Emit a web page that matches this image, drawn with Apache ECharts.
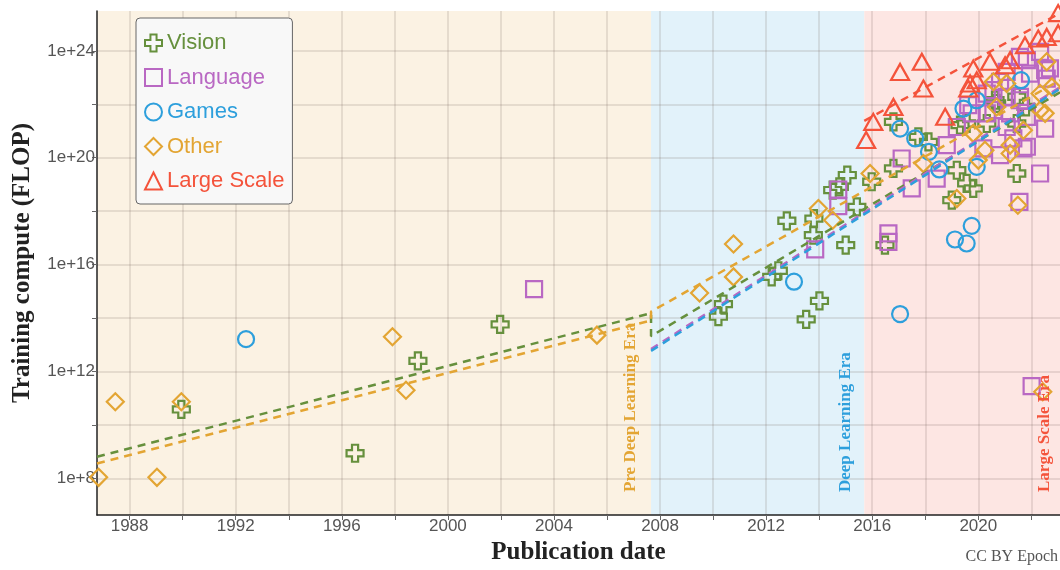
<!DOCTYPE html>
<html>
<head>
<meta charset="utf-8">
<script src="https://cdn.jsdelivr.net/npm/echarts@6/dist/echarts.min.js"></script>
<style>
  html, body { margin: 0; padding: 0; background: #ffffff; }
  #main { width: 1060px; height: 570px; }
</style>
</head>
<body>
<div id="main"></div>
<script>
// Training compute of notable ML systems by publication date.
// Each point is [publication year, log10(training FLOP)].
const vision = [
  [1989.95, 10.58], [1996.50, 8.94], [1998.87, 12.40], [2001.97, 13.76],
  [2010.20, 14.05], [2010.39, 14.52], [2012.21, 15.54], [2012.46, 15.77], [2012.78, 17.64],
  [2013.51, 13.95], [2014.01, 14.64], [2013.78, 17.10], [2013.80, 17.72], [2014.51, 18.79],
  [2014.76, 18.91], [2015.06, 19.35], [2015.00, 16.73], [2015.42, 18.16],
  [2015.98, 19.10], [2016.48, 16.73], [2016.80, 19.60], [2016.80, 21.34], [2017.74, 20.78],
  [2018.12, 20.59], [2019.00, 18.41], [2019.19, 19.53], [2019.56, 19.04], [2019.81, 18.85],
  [2019.31, 21.22], [2019.56, 21.28], [2020.32, 21.28], [2020.63, 22.15], [2020.69, 22.03],
  [2021.45, 22.28], [2021.45, 21.28], [2021.45, 19.41], [2021.80, 21.90]
];
const language = [
  [2003.25, 15.08],
  [2013.85, 16.57], [2014.72, 18.19], [2014.72, 18.81],
  [2016.61, 17.17], [2016.61, 16.85], [2017.11, 19.97], [2017.49, 18.85], [2018.43, 19.22],
  [2018.81, 20.47], [2019.19, 21.15], [2019.62, 21.97], [2019.75, 21.66], [2020.32, 21.66],
  [2020.19, 20.35], [2020.82, 20.10], [2021.07, 21.15], [2021.83, 20.41], [2022.52, 21.09],
  [2022.33, 19.41], [2020.57, 22.53], [2020.82, 22.84], [2021.07, 23.21], [2021.57, 23.77],
  [2021.83, 23.65], [2022.33, 23.96], [2022.70, 23.34], [2022.58, 22.96], [2021.57, 22.28],
  [2022.01, 11.45], [2021.55, 18.35], [2020.32, 22.40], [2021.07, 22.28], [2021.57, 22.15],
  [2021.95, 23.15], [2022.52, 23.28], [2020.57, 21.78], [2021.20, 21.66], [2021.83, 21.53],
  [2021.32, 20.72], [2021.70, 20.35]
];
const games = [
  [1992.39, 13.21], [2013.05, 15.36],
  [2017.05, 21.09], [2017.62, 20.72], [2018.14, 20.22], [2018.53, 19.56], [2019.44, 21.84],
  [2019.94, 22.15], [2019.94, 19.66], [2021.61, 22.90], [2017.05, 14.15], [2019.12, 16.94],
  [2019.56, 16.79], [2019.75, 17.45]
];
const other = [
  [1986.83, 8.04], [1987.46, 10.87], [1989.03, 8.04], [1989.95, 10.87], [1992.70, 6.40],
  [1997.91, 13.30], [1998.42, 11.30], [2005.62, 13.36],
  [2009.49, 14.94], [2010.77, 16.77], [2010.77, 15.54], [2013.97, 18.10], [2014.51, 17.66],
  [2015.92, 19.41], [2017.93, 19.78], [2019.19, 18.47], [2021.49, 18.22], [2019.81, 20.91],
  [2020.25, 20.28], [2021.20, 20.16], [2021.70, 21.03], [2022.33, 21.78], [2022.77, 22.65],
  [2020.69, 21.90], [2021.07, 22.78], [2022.58, 23.59], [2022.52, 21.66], [2021.20, 20.47],
  [2022.33, 22.40], [2020.57, 22.84], [2020.00, 19.91], [2022.43, 11.24]
];
const largeScale = [
  [2015.77, 20.66], [2016.04, 21.34], [2016.80, 21.90], [2017.05, 23.21], [2017.87, 23.59],
  [2017.93, 22.59], [2018.75, 21.53], [2019.62, 22.59], [2019.69, 22.78], [2019.81, 23.34],
  [2019.94, 22.90], [2020.44, 23.59], [2021.01, 23.46], [2021.20, 23.65], [2021.76, 24.21],
  [2022.26, 24.46], [2022.58, 24.52], [2023.01, 25.41], [2023.01, 24.66]
];

// Fitted trends: [year, log10 FLOP] vertices, one polyline per category
const visionTrend = [[1986.77, 8.81], [2007.66, 14.18], [2007.66, 13.32], [2023.08, 22.45]];
const otherTrend = [[1986.77, 8.56], [2007.66, 13.91], [2007.66, 14.24], [2023.08, 22.90]];
const languageTrend = [[2007.66, 12.84], [2023.08, 22.64]];
const gamesTrend = [[2007.66, 12.77], [2023.08, 22.58]];
const largeScaleTrend = [[2015.70, 21.38], [2023.08, 25.41]];

// Era boundaries (years) and names
const eraBounds = [1986.77, 2007.66, 2015.70, 2023.08];
const eraNames = ['Pre Deep Learning Era', 'Deep Learning Era', 'Large Scale Era'];

// Axis ticks and labels
const xTickYears = [1988, 1990, 1992, 1994, 1996, 1998, 2000, 2002, 2004, 2006, 2008, 2010, 2012, 2014, 2016, 2018, 2020, 2022];
const xLabelYears = [1988, 1992, 1996, 2000, 2004, 2008, 2012, 2016, 2020];
const yTickExps = [8, 10, 12, 14, 16, 18, 20, 22, 24];
const yLabelExps = [8, 12, 16, 20, 24];
const yRange = [6.63, 25.49];

const categories = ['Vision', 'Language', 'Games', 'Other', 'Large Scale'];

const COLORS = {
  'Vision': '#66903d',
  'Language': '#b968c3',
  'Games': '#2d9fdc',
  'Other': '#e3a533',
  'Large Scale': '#f4533b'
};
const ERA_FILL = ['#fbf2e3', '#e2f2fa', '#fde6e3'];
const ERA_TEXT = ['#e3a533', '#2d9fdc', '#f4533b'];

const PLUS = 'path://M3.2,0H6.8V3.2H10V6.8H6.8V10H3.2V6.8H0V3.2H3.2Z';
const SYMBOLS = {
  'Vision': [PLUS, 17],
  'Language': ['rect', 16],
  'Games': ['circle', 16],
  'Other': ['diamond', 17],
  'Large Scale': ['triangle', [18, 16]]
};
const SERIES_DATA = {
  'Vision': vision, 'Language': language, 'Games': games, 'Other': other, 'Large Scale': largeScale
};
const TREND_DATA = {
  'Vision': visionTrend, 'Language': languageTrend, 'Games': gamesTrend, 'Other': otherTrend, 'Large Scale': largeScaleTrend
};

const SANS = '"Liberation Sans", Arial, Helvetica, sans-serif';
const SERIF = '"Liberation Serif", "Times New Roman", serif';

const chart = echarts.init(document.getElementById('main'), null, { renderer: 'canvas' });

const series = [];

// Era background bands
series.push({
  type: 'line',
  name: 'eras',
  data: [],
  z: 1,
  silent: true,
  markArea: {
    silent: true,
    z: 1,
    data: eraNames.map((n, i) => [
      { xAxis: eraBounds[i], itemStyle: { color: ERA_FILL[i], opacity: 1 } },
      { xAxis: eraBounds[i + 1] }
    ])
  }
});

// Markers
categories.forEach(name => {
  const c = COLORS[name];
  series.push({
    type: 'scatter',
    name: name,
    data: SERIES_DATA[name],
    symbol: SYMBOLS[name][0],
    symbolSize: SYMBOLS[name][1],
    z: 4,
    itemStyle: { color: 'rgba(0,0,0,0)', borderColor: c, borderWidth: 2.2, opacity: 1 },
    emphasis: { disabled: true }
  });
});

// Trend lines
categories.forEach(name => {
  series.push({
    type: 'line',
    name: name + ' trend',
    data: TREND_DATA[name],
    showSymbol: false,
    symbol: 'none',
    z: 5,
    silent: true,
    lineStyle: { color: COLORS[name], width: 2.5, type: [8, 6] },
    emphasis: { disabled: true }
  });
});

const option = {
  animation: false,
  backgroundColor: '#ffffff',
  grid: { left: 97, right: 0, top: 11, bottom: 55, containLabel: false, outerBoundsMode: 'none' },
  legend: {
    orient: 'vertical',
    left: 136,
    top: 18,
    padding: [14, 8, 12, 8],
    itemGap: 12.5,
    itemWidth: 17,
    itemHeight: 17,
    backgroundColor: '#f8f8f8',
    borderColor: '#666666',
    borderWidth: 1,
    borderRadius: 4,
    selectedMode: false,
    textStyle: { fontFamily: SANS, fontSize: 22 },
    data: categories.map(name => ({
      name: name,
      itemStyle: { color: 'rgba(0,0,0,0)', borderColor: COLORS[name], borderWidth: 2 },
      textStyle: { color: COLORS[name], fontFamily: SANS, fontSize: 22 }
    }))
  },
  xAxis: {
    type: 'value',
    min: eraBounds[0],
    max: eraBounds[eraBounds.length - 1],
    z: 2,
    name: 'Publication date',
    nameLocation: 'middle',
    nameGap: 25,
    nameTextStyle: { fontFamily: SERIF, fontWeight: 'bold', fontSize: 25, color: '#222222' },
    axisLine: { show: true, onZero: false, lineStyle: { color: '#222222', width: 1.5 } },
    axisTick: { show: true, length: 5, customValues: xTickYears, lineStyle: { color: '#666666', width: 1 } },
    axisLabel: {
      customValues: xLabelYears, margin: 3, fontSize: 17, color: '#555555', fontFamily: SANS,
      formatter: v => String(Math.round(v))
    },
    splitLine: { show: true, lineStyle: { color: 'rgba(110,90,80,0.2)', width: 1.5 } }
  },
  yAxis: {
    type: 'value',
    min: yRange[0],
    max: yRange[1],
    z: 2,
    name: 'Training compute (FLOP)',
    nameLocation: 'middle',
    nameGap: 62,
    nameRotate: 90,
    nameTextStyle: { fontFamily: SERIF, fontWeight: 'bold', fontSize: 25, color: '#222222' },
    axisLine: { show: true, onZero: false, lineStyle: { color: '#222222', width: 1.5 } },
    axisTick: { show: true, length: 5, customValues: yTickExps, lineStyle: { color: '#666666', width: 1 } },
    axisLabel: {
      customValues: yLabelExps, margin: 2, fontSize: 17, color: '#555555', fontFamily: SANS,
      formatter: v => '1e+' + Math.round(v)
    },
    splitLine: { show: true, lineStyle: { color: 'rgba(110,90,80,0.2)', width: 1.5 } }
  },
  series: series
};

chart.setOption(option);

// Era names, written vertically just inside the end of each era
const bottomPx = chart.convertToPixel({ yAxisIndex: 0 }, yRange[0]);
const eraInset = [20, 19, 15];
const graphics = eraNames.map((n, i) => {
  const xPx = chart.convertToPixel({ xAxisIndex: 0 }, eraBounds[i + 1]);
  return {
    type: 'text',
    x: xPx - eraInset[i],
    y: bottomPx - 23,
    rotation: Math.PI / 2,
    z: 10,
    silent: true,
    style: {
      text: n,
      fill: ERA_TEXT[i],
      font: 'bold 17px ' + SERIF,
      align: 'left',
      verticalAlign: 'middle'
    }
  };
});
graphics.push({
  type: 'text',
  right: 2,
  bottom: 5,
  z: 10,
  silent: true,
  style: { text: 'CC BY Epoch', fill: '#555555', font: '16px ' + SERIF }
});
chart.setOption({ graphic: graphics });
</script>
</body>
</html>
